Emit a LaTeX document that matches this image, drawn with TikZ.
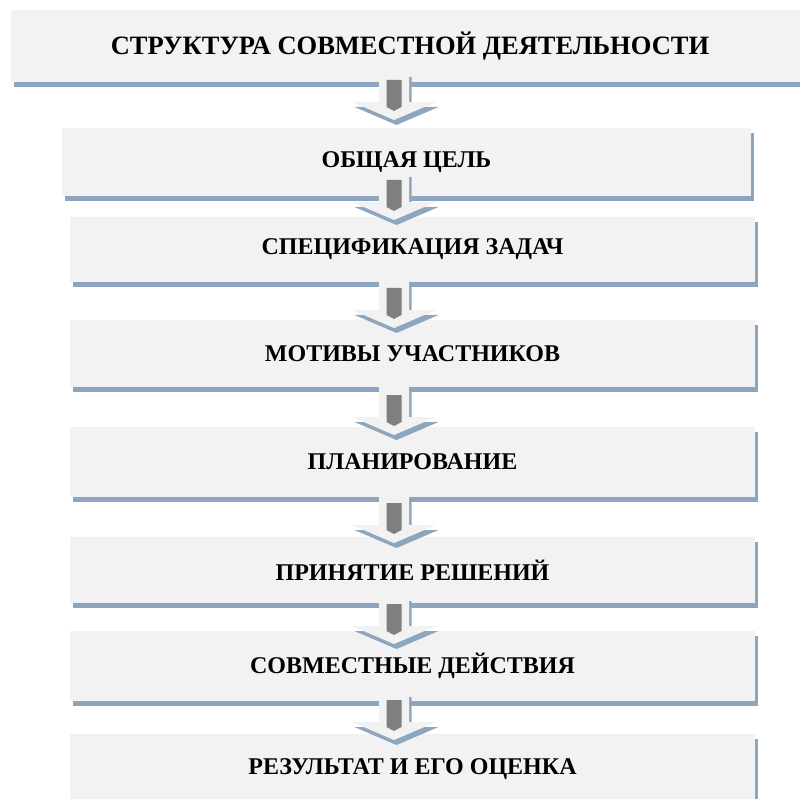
\documentclass[tikz,border=0pt]{standalone}
\usepackage{fontspec}
\setmainfont{Liberation Serif}
\usetikzlibrary{shadows}

\definecolor{boxgray}{HTML}{F2F2F2}
\definecolor{shadowblue}{HTML}{8EA6BD}
\definecolor{shaftgray}{HTML}{7F7F7F}

\tikzset{
  stage/.style={fill=boxgray, inner sep=0pt, minimum width=685pt,
    font=\bfseries\fontsize{24}{28}\selectfont,
    drop shadow={shadow xshift=3pt, shadow yshift=-5pt, fill=shadowblue, opacity=1}},
  title/.style={stage, minimum width=798pt, font=\bfseries\fontsize{26.5}{30}\selectfont}
}

% block arrow, #1 = top of the dark shaft
\newcommand{\stagearrow}[1]{
  \fill[shadowblue, shift={(396.5,#1+5)}] (-15,-8) -- (15,-8) -- (15,22) -- (42,22)
    -- (0,40) -- (-42,22) -- (-15,22) -- cycle;
  \fill[boxgray, shift={(394,#1)}] (-15,-8) -- (15,-8) -- (15,22) -- (42,22)
    -- (0,40) -- (-42,22) -- (-15,22) -- cycle;
  \fill[shaftgray, shift={(394,#1)}] (-7.5,0) -- (7.5,0) -- (7.5,27) -- (0,31)
    -- (-7.5,27) -- cycle;
}

\begin{document}
\begin{tikzpicture}[x=1pt, y=-1pt]
  \useasboundingbox (0,0) rectangle (800,799);
  \node[title, minimum height=72pt] (struct) at (410,46) {СТРУКТУРА СОВМЕСТНОЙ ДЕЯТЕЛЬНОСТИ};
  \node[stage, minimum width=689pt, minimum height=68pt] (goal) at (406.5,162) {ОБЩАЯ ЦЕЛЬ};
  \node[stage, minimum height=65pt] (tasks) at (412.5,249.5) {СПЕЦИФИКАЦИЯ ЗАДАЧ};
  \node[stage, minimum height=67pt] (motives) at (412.5,353.5) {МОТИВЫ УЧАСТНИКОВ};
  \node[stage, minimum height=70pt] (planning) at (412.5,462) {ПЛАНИРОВАНИЕ};
  \node[stage, minimum height=66pt] (decisions) at (412.5,570) {ПРИНЯТИЕ РЕШЕНИЙ};
  \node[stage, minimum height=70pt] (actions) at (412.5,666) {СОВМЕСТНЫЕ ДЕЙСТВИЯ};
  \node[stage, minimum height=71pt] (result) at (412.5,769.5) {РЕЗУЛЬТАТ И ЕГО ОЦЕНКА};

  \stagearrow{80}
  \stagearrow{180}
  \stagearrow{288}
  \stagearrow{395}
  \stagearrow{503}
  \stagearrow{604}
  \stagearrow{700}
\end{tikzpicture}
\end{document}
